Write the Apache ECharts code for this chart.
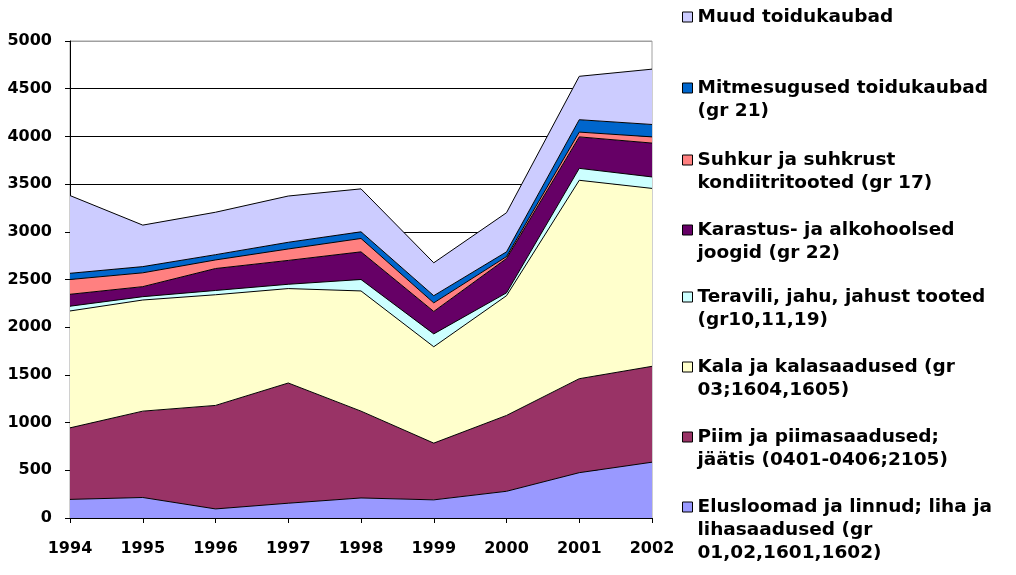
<!DOCTYPE html>
<html>
<head>
<meta charset="utf-8">
<script src="https://cdn.jsdelivr.net/npm/echarts@6/dist/echarts.min.js"></script>
<style>
  html, body { margin: 0; padding: 0; background: #fff; }
  #chart { width: 1016px; height: 575px; }
</style>
</head>
<body>
<div id="chart"></div>
<script>
// aastad
const years = ['1994', '1995', '1996', '1997', '1998', '1999', '2000', '2001', '2002'];

// kaubagrupid, alt üles (virnastatud)
const elusloomad = [195, 215, 95, 155, 210, 190, 280, 475, 585];
const piim       = [750, 905, 1085, 1260, 910, 595, 795, 985, 1005];
const kala       = [1225, 1165, 1160, 990, 1260, 1010, 1255, 2080, 1865];
const teravili   = [50, 35, 45, 45, 120, 135, 30, 125, 120];
const karastus   = [125, 105, 230, 250, 290, 235, 360, 330, 355];
const suhkur     = [155, 145, 90, 120, 140, 90, 20, 50, 65];
const mitmesug   = [65, 65, 55, 70, 70, 75, 50, 130, 130];
const muud       = [815, 435, 445, 485, 450, 345, 410, 455, 580];

const yTicks = [0, 500, 1000, 1500, 2000, 2500, 3000, 3500, 4000, 4500, 5000];

// legendi tekstid (reavahetustega nagu originaalis)
const names = [
  'Elusloomad ja linnud; liha ja lihasaadused (gr 01,02,1601,1602)',
  'Piim ja piimasaadused; jäätis (0401-0406;2105)',
  'Kala ja kalasaadused (gr 03;1604,1605)',
  'Teravili, jahu, jahust tooted (gr10,11,19)',
  'Karastus- ja alkohoolsed joogid (gr 22)',
  'Suhkur ja suhkrust kondiitritooted (gr 17)',
  'Mitmesugused toidukaubad (gr 21)',
  'Muud toidukaubad'
];
const legendLines = [
  ['Elusloomad ja linnud; liha ja', 'lihasaadused (gr', '01,02,1601,1602)'],
  ['Piim ja piimasaadused;', 'jäätis (0401-0406;2105)'],
  ['Kala ja kalasaadused (gr', '03;1604,1605)'],
  ['Teravili, jahu, jahust tooted', '(gr10,11,19)'],
  ['Karastus- ja alkohoolsed', 'joogid (gr 22)'],
  ['Suhkur ja suhkrust', 'kondiitritooted (gr 17)'],
  ['Mitmesugused toidukaubad', '(gr 21)'],
  ['Muud toidukaubad']
];
const values = [elusloomad, piim, kala, teravili, karastus, suhkur, mitmesug, muud];
const colors = ['#9999FF', '#993366', '#FFFFCC', '#CCFFFF', '#660066', '#FF8080', '#0066CC', '#CCCCFF'];
// legendi esimese rea keskkoht (y)
const legendY = [507, 437, 367, 297, 230, 160, 88, 17];

const LH = 23;
const FONT = 'DejaVu Sans';

var myChart = echarts.init(document.getElementById('chart'));

var legends = names.map(function (n, i) {
  var lines = legendLines[i];
  var pad = [];
  for (var k = 0; k < lines.length - 1; k++) pad.push('');
  var text = pad.concat(lines).join('\n');
  var total = (2 * lines.length - 1) * LH;
  return {
    left: 682,
    top: legendY[i] - total / 2,
    padding: 0,
    icon: 'rect',
    itemWidth: 10,
    itemHeight: 10,
    selectedMode: false,
    data: [{ name: n, itemStyle: { color: colors[i], borderColor: '#000', borderWidth: 1 } }],
    formatter: function () { return text; },
    textStyle: { fontFamily: FONT, fontWeight: 'bold', fontSize: 18.5, color: '#000', lineHeight: LH }
  };
});

var options = {
  backgroundColor: '#fff',
  animation: false,
  legend: legends,
  grid: {
    left: 70, right: 364, top: 41, bottom: 57,
    show: true, borderColor: '#a0a0a0', borderWidth: 1
  },
  xAxis: {
    type: 'category',
    data: years,
    boundaryGap: false,
    axisLine: { lineStyle: { color: '#000', width: 1 } },
    axisTick: { length: 5, lineStyle: { color: '#000' } },
    axisLabel: { margin: 23, color: '#000', fontFamily: FONT, fontWeight: 'bold', fontSize: 16 }
  },
  yAxis: {
    type: 'value',
    min: yTicks[0],
    max: yTicks[yTicks.length - 1],
    interval: 500,
    axisLine: { show: true, lineStyle: { color: '#000', width: 1 } },
    axisTick: { show: true, length: 5, lineStyle: { color: '#000' } },
    axisLabel: {
      margin: 18, color: '#000', fontFamily: FONT, fontWeight: 'bold', fontSize: 16,
      formatter: function (v) { return String(v); }
    },
    splitLine: {
      lineStyle: {
        color: ['#000', '#000', '#000', '#000', '#000', '#000', '#000', '#000', '#000', '#000', '#a0a0a0'],
        width: 1
      }
    }
  },
  series: names.map(function (n, i) {
    return {
      name: n,
      type: 'line',
      stack: 'kokku',
      data: values[i],
      symbol: 'none',
      color: colors[i],
      lineStyle: { color: '#000', width: 1 },
      areaStyle: { color: colors[i], opacity: 1 },
      z: 2
    };
  })
};

myChart.setOption(options);
</script>
</body>
</html>
